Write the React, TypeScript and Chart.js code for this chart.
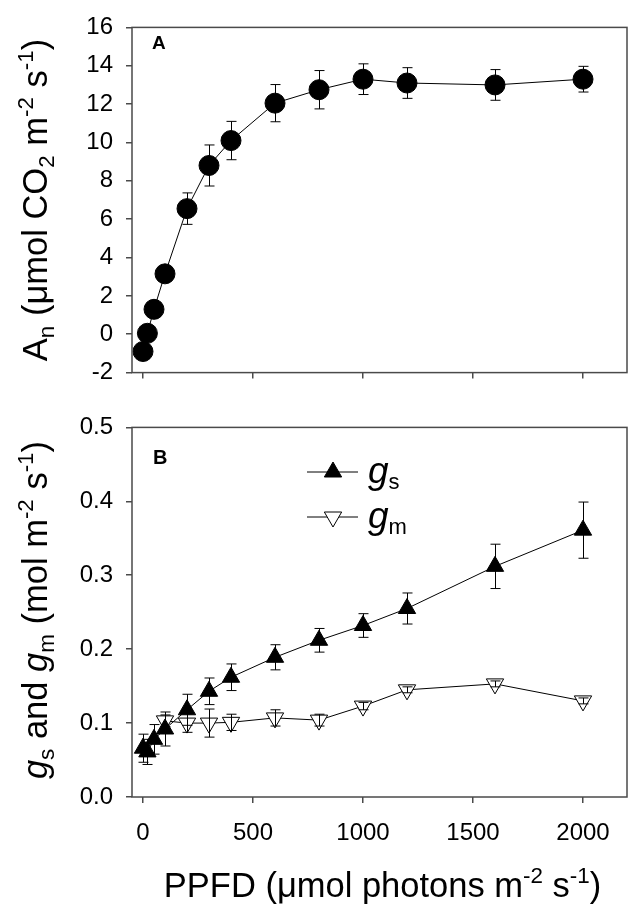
import React, { useEffect, useRef } from 'react';
import { Chart, registerables } from 'chart.js';

Chart.register(...registerables);

const FONT = '"Liberation Sans", Arial, Helvetica, sans-serif';

// ---- data ----
const ppfd = [0, 20, 50, 100, 200, 300, 400, 600, 800, 1000, 1200, 1600, 2000];
const anValues = [-0.9, 0.05, 1.3, 3.15, 6.55, 8.8, 10.1, 12.05, 12.75, 13.3, 13.1, 13.0, 13.3];
const anErrors = [0.2, 0.43, 0.25, 0.4, 0.82, 1.07, 1.0, 0.97, 1.0, 0.8, 0.8, 0.8, 0.67];

const gsValues = [0.066, 0.061, 0.078, 0.092, 0.118, 0.143, 0.162, 0.189, 0.212, 0.232, 0.255, 0.312, 0.361];
const gsErrors = [0.019, 0.017, 0.02, 0.023, 0.021, 0.018, 0.018, 0.017, 0.016, 0.016, 0.021, 0.03, 0.038];

const gmPpfd = [100, 200, 300, 400, 600, 800, 1000, 1200, 1600, 2000];
const gmValues = [0.103, 0.1, 0.1, 0.101, 0.107, 0.104, 0.123, 0.145, 0.153, 0.13];
const gmErrors = [0.008, 0.0125, 0.019, 0.011, 0.011, 0.008, 0.005, 0.004, 0.004, 0.004];

const xTicks = [0, 500, 1000, 1500, 2000];
const anTicks = [-2, 0, 2, 4, 6, 8, 10, 12, 14, 16];
const gTicks = [0, 0.1, 0.2, 0.3, 0.4, 0.5];

type Seg = { t: string; k?: 'sub' | 'sup'; i?: boolean };

const anTitle: Seg[] = [
  { t: 'A' }, { t: 'n', k: 'sub' }, { t: ' (μmol CO' }, { t: '2', k: 'sub' },
  { t: ' m' }, { t: '-2', k: 'sup' }, { t: ' s' }, { t: '-1', k: 'sup' }, { t: ')' },
];
const gTitle: Seg[] = [
  { t: 'g', i: true }, { t: 's', k: 'sub' }, { t: ' and ' }, { t: 'g', i: true }, { t: 'm', k: 'sub' },
  { t: ' (mol m' }, { t: '-2', k: 'sup' }, { t: ' s' }, { t: '-1', k: 'sup' }, { t: ')' },
];
const xTitle: Seg[] = [
  { t: 'PPFD (μmol photons m' }, { t: '-2', k: 'sup' }, { t: ' s' }, { t: '-1', k: 'sup' }, { t: ')' },
];

function drawRich(ctx: CanvasRenderingContext2D, segs: Seg[], x: number, y: number, size: number, rot: number) {
  ctx.save();
  ctx.translate(x, y);
  ctx.rotate(rot);
  ctx.fillStyle = '#000';
  ctx.textAlign = 'left';
  ctx.textBaseline = 'alphabetic';
  const fontOf = (s: Seg) => `${s.i ? 'italic ' : ''}${s.k ? size * 0.65 : size}px ${FONT}`;
  const widths = segs.map((s) => {
    ctx.font = fontOf(s);
    return ctx.measureText(s.t).width;
  });
  const total = widths.reduce((a, b) => a + b, 0);
  let cx = -total / 2;
  segs.forEach((s, i) => {
    ctx.font = fontOf(s);
    const dy = s.k === 'sub' ? size * 0.2 : s.k === 'sup' ? -size * 0.4 : 0;
    ctx.fillText(s.t, cx, dy);
    cx += widths[i];
  });
  ctx.restore();
}

function tri(ctx: CanvasRenderingContext2D, x: number, y: number, r: number, down: boolean, fill: string) {
  const s = down ? -1 : 1;
  const h = r * Math.sin((2 * Math.PI) / 3);
  ctx.beginPath();
  ctx.moveTo(x, y - s * r);
  ctx.lineTo(x + h, y + (s * r) / 2);
  ctx.lineTo(x - h, y + (s * r) / 2);
  ctx.closePath();
  ctx.fillStyle = fill;
  ctx.fill();
  ctx.strokeStyle = '#000';
  ctx.lineWidth = 1;
  ctx.stroke();
}

type ErrSet = { xs: number[]; ys: number[]; es: number[] };

function makePlugin(id: string, errs: ErrSet[], extra: (chart: any) => void) {
  return {
    id,
    afterDatasetsDraw(chart: any) {
      const { ctx, scales } = chart;
      const x = scales.x;
      const y = scales.y;
      ctx.save();
      ctx.strokeStyle = '#000';
      ctx.lineWidth = 1;
      errs.forEach((set) => {
        set.xs.forEach((xv, i) => {
          const px = Math.round(x.getPixelForValue(xv)) + 0.5;
          const top = y.getPixelForValue(set.ys[i] + set.es[i]);
          const bot = y.getPixelForValue(set.ys[i] - set.es[i]);
          ctx.beginPath();
          ctx.moveTo(px, top);
          ctx.lineTo(px, bot);
          ctx.moveTo(px - 5, top);
          ctx.lineTo(px + 5, top);
          ctx.moveTo(px - 5, bot);
          ctx.lineTo(px + 5, bot);
          ctx.stroke();
        });
      });
      ctx.restore();
    },
    afterDraw(chart: any) {
      const { ctx, chartArea } = chart;
      ctx.save();
      ctx.strokeStyle = '#4a4a4a';
      ctx.lineWidth = 1.5;
      ctx.strokeRect(chartArea.left, chartArea.top, chartArea.right - chartArea.left, chartArea.bottom - chartArea.top);
      ctx.restore();
      extra(chart);
    },
  };
}

const gridOpts = { drawOnChartArea: false, drawTicks: true, tickLength: 6, color: '#4a4a4a', lineWidth: 1.5 };

export default function App() {
  const refA = useRef<HTMLCanvasElement>(null);
  const refB = useRef<HTMLCanvasElement>(null);

  useEffect(() => {
    const pluginA = makePlugin('panelA', [{ xs: ppfd, ys: anValues, es: anErrors }], (chart) => {
      const ctx = chart.ctx as CanvasRenderingContext2D;
      ctx.save();
      ctx.fillStyle = '#000';
      ctx.font = `bold 19px ${FONT}`;
      ctx.textBaseline = 'alphabetic';
      ctx.fillText('A', 152, 49);
      ctx.restore();
      drawRich(ctx, anTitle, 47, 200, 34.5, -Math.PI / 2);
    });

    const pluginB = makePlugin(
      'panelB',
      [
        { xs: ppfd, ys: gsValues, es: gsErrors },
        { xs: gmPpfd, ys: gmValues, es: gmErrors },
      ],
      (chart) => {
        const ctx = chart.ctx as CanvasRenderingContext2D;
        ctx.save();
        ctx.fillStyle = '#000';
        ctx.font = `bold 20px ${FONT}`;
        ctx.fillText('B', 153, 64);
        // legend
        ctx.strokeStyle = '#000';
        ctx.lineWidth = 1;
        ctx.beginPath();
        ctx.moveTo(307, 72);
        ctx.lineTo(358, 72);
        ctx.moveTo(307, 117);
        ctx.lineTo(358, 117);
        ctx.stroke();
        tri(ctx, 333, 72, 10, false, '#000');
        tri(ctx, 333, 117, 10, true, '#fff');
        ctx.fillStyle = '#000';
        ctx.textBaseline = 'alphabetic';
        ctx.font = `italic 37px ${FONT}`;
        ctx.fillText('g', 368, 83);
        const gw = ctx.measureText('g').width;
        ctx.fillText('g', 368, 128);
        ctx.font = `22px ${FONT}`;
        ctx.fillText('s', 368 + gw, 89);
        ctx.fillText('m', 368 + gw, 134);
        ctx.restore();
        drawRich(ctx, gTitle, 47, 210, 34.5, -Math.PI / 2);
        drawRich(ctx, xTitle, 382.5, 497, 34.5, 0);
      }
    );

    const xScaleBase = {
      type: 'linear' as const,
      min: -50,
      max: 2200,
      afterBuildTicks: (s: any) => {
        s.ticks = xTicks.map((v) => ({ value: v }));
      },
      grid: gridOpts,
      border: { display: false },
    };

    const chartA = new Chart(refA.current!, {
      type: 'scatter',
      data: {
        datasets: [
          {
            data: ppfd.map((x, i) => ({ x, y: anValues[i] })),
            showLine: true,
            borderColor: '#000',
            borderWidth: 1,
            pointStyle: 'circle',
            pointRadius: 10,
            pointHoverRadius: 10,
            pointBackgroundColor: '#000',
            pointBorderColor: '#000',
            clip: false as any,
          },
        ],
      },
      options: {
        responsive: false,
        animation: false,
        events: [],
        layout: { padding: { top: 14, right: 5, left: 0, bottom: 0 } },
        plugins: { legend: { display: false }, tooltip: { enabled: false } },
        scales: {
          x: {
            ...xScaleBase,
            ticks: { display: false },
            afterFit: (s: any) => {
              s.height = 11;
            },
          },
          y: {
            type: 'linear',
            min: -2,
            max: 16,
            afterBuildTicks: (s: any) => {
              s.ticks = anTicks.map((v) => ({ value: v }));
            },
            ticks: { font: { size: 24, family: FONT }, color: '#000', padding: 13, callback: (v: any) => String(v) },
            grid: gridOpts,
            border: { display: false },
            afterFit: (s: any) => {
              s.width = 132;
            },
          },
        },
      },
      plugins: [pluginA],
    } as any);

    const chartB = new Chart(refB.current!, {
      type: 'scatter',
      data: {
        datasets: [
          {
            data: ppfd.map((x, i) => ({ x, y: gsValues[i] })),
            showLine: true,
            borderColor: '#000',
            borderWidth: 1,
            pointStyle: 'triangle',
            pointRadius: 10,
            pointHoverRadius: 10,
            pointBackgroundColor: '#000',
            pointBorderColor: '#000',
            clip: false as any,
          },
          {
            data: gmPpfd.map((x, i) => ({ x, y: gmValues[i] })),
            showLine: true,
            borderColor: '#000',
            borderWidth: 1,
            pointStyle: 'triangle',
            pointRotation: 180,
            pointRadius: 10,
            pointHoverRadius: 10,
            pointBackgroundColor: '#fff',
            pointBorderColor: '#000',
            pointBorderWidth: 1,
            clip: false as any,
          },
        ],
      },
      options: {
        responsive: false,
        animation: false,
        events: [],
        layout: { padding: { top: 22, right: 5, left: 0, bottom: 0 } },
        plugins: { legend: { display: false }, tooltip: { enabled: false } },
        scales: {
          x: {
            ...xScaleBase,
            ticks: {
              font: { size: 24, family: FONT },
              color: '#000',
              padding: 16,
              maxRotation: 0,
              callback: (v: any) => String(v),
            },
            afterFit: (s: any) => {
              s.height = 116;
            },
          },
          y: {
            type: 'linear',
            min: 0,
            max: 0.5,
            afterBuildTicks: (s: any) => {
              s.ticks = gTicks.map((v) => ({ value: v }));
            },
            ticks: { font: { size: 24, family: FONT }, color: '#000', padding: 13, callback: (v: any) => Number(v).toFixed(1) },
            grid: gridOpts,
            border: { display: false },
            afterFit: (s: any) => {
              s.width = 132;
            },
          },
        },
      },
      plugins: [pluginB],
    } as any);

    return () => {
      chartA.destroy();
      chartB.destroy();
    };
  }, []);

  return (
    <div style={{ position: 'absolute', left: 0, top: 0, width: 638, height: 913, background: '#fff' }}>
      <canvas ref={refA} width={638} height={400} style={{ position: 'absolute', left: 0, top: 0, width: 638, height: 400 }} />
      <canvas ref={refB} width={638} height={513} style={{ position: 'absolute', left: 0, top: 400, width: 638, height: 513 }} />
    </div>
  );
}
